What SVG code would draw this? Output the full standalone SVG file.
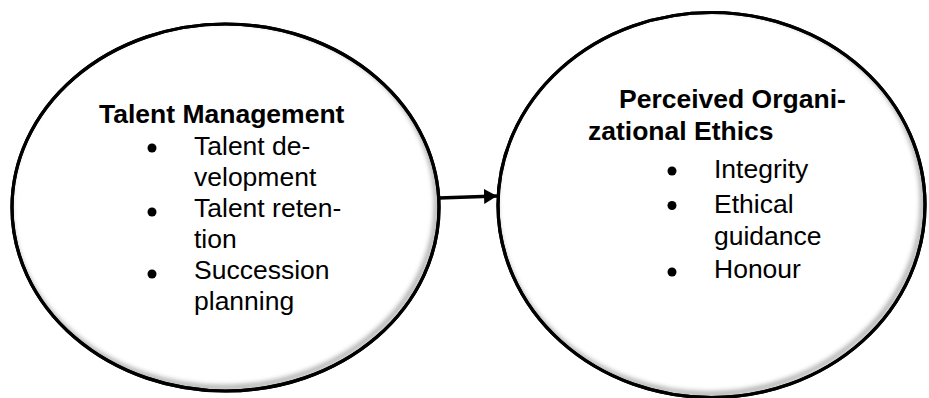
<svg xmlns="http://www.w3.org/2000/svg" width="929" height="398" viewBox="0 0 929 398">
  <style>
    .shape { fill: #ffffff; stroke: #000000; stroke-width: 3.2; }
    .shadow { fill: none; stroke: #000000; stroke-opacity: 0.4; stroke-width: 4; }
    .title { font-family: "Liberation Sans", Arial, sans-serif; font-weight: bold; font-size: 26.5px; fill: #000000; }
    .item { font-family: "Liberation Sans", Arial, sans-serif; font-size: 26.5px; fill: #000000; }
    .bullet { fill: #000000; }
    .conn { stroke: #000000; stroke-width: 3.5; fill: none; }
  </style>
  <defs>
    <filter id="blur" x="-10%" y="-10%" width="120%" height="120%">
      <feGaussianBlur stdDeviation="2.5"/>
    </filter>
    <clipPath id="clipL"><ellipse cx="225.5" cy="207.5" rx="213.5" ry="183.5"/></clipPath>
    <clipPath id="clipR"><ellipse cx="711.5" cy="205" rx="213.5" ry="192.5"/></clipPath>
    <marker id="arrow" markerUnits="userSpaceOnUse" markerWidth="16" markerHeight="16" refX="13" refY="7.5" orient="auto">
      <path d="M0,0 L13,7.5 L0,15 Z" fill="#000000"/>
    </marker>
  </defs>
  <rect width="929" height="398" fill="#ffffff"/>

  <g id="node-talent-management">
    <ellipse class="shape" cx="225.5" cy="207.5" rx="213.5" ry="183.5"/>
    <g clip-path="url(#clipL)">
      <ellipse class="shadow" cx="223" cy="204" rx="213.5" ry="183.5" filter="url(#blur)"/>
    </g>
    <ellipse cx="225.5" cy="207.5" rx="213.5" ry="183.5" fill="none" stroke="#000" stroke-width="3.2"/>
    <text class="title" x="99" y="123">Talent Management</text>
    <circle class="bullet" cx="152" cy="148" r="4.5"/>
    <text class="item" x="194" y="155">Talent de-</text>
    <text class="item" x="194" y="186">velopment</text>
    <circle class="bullet" cx="152" cy="212" r="4.5"/>
    <text class="item" x="194" y="217">Talent reten-</text>
    <text class="item" x="194" y="248">tion</text>
    <circle class="bullet" cx="152" cy="274" r="4.5"/>
    <text class="item" x="194" y="279">Succession</text>
    <text class="item" x="194" y="310">planning</text>
  </g>

  <g id="node-perceived-ethics">
    <ellipse class="shape" cx="711.5" cy="205" rx="213.5" ry="192.5"/>
    <g clip-path="url(#clipR)">
      <ellipse class="shadow" cx="709" cy="201.5" rx="213.5" ry="192.5" filter="url(#blur)"/>
    </g>
    <ellipse cx="711.5" cy="205" rx="213.5" ry="192.5" fill="none" stroke="#000" stroke-width="3.2"/>
    <text class="title" x="619" y="108">Perceived Organi-</text>
    <text class="title" x="588" y="140">zational Ethics</text>
    <circle class="bullet" cx="672" cy="171" r="4.5"/>
    <text class="item" x="714" y="178">Integrity</text>
    <circle class="bullet" cx="672" cy="205.5" r="4.5"/>
    <text class="item" x="714" y="212.5">Ethical</text>
    <text class="item" x="714" y="245">guidance</text>
    <circle class="bullet" cx="672" cy="272" r="4.5"/>
    <text class="item" x="714" y="278">Honour</text>
  </g>

  <g id="connectors">
    <line class="conn" x1="439" y1="198" x2="497" y2="196" marker-end="url(#arrow)"/>
  </g>
</svg>
